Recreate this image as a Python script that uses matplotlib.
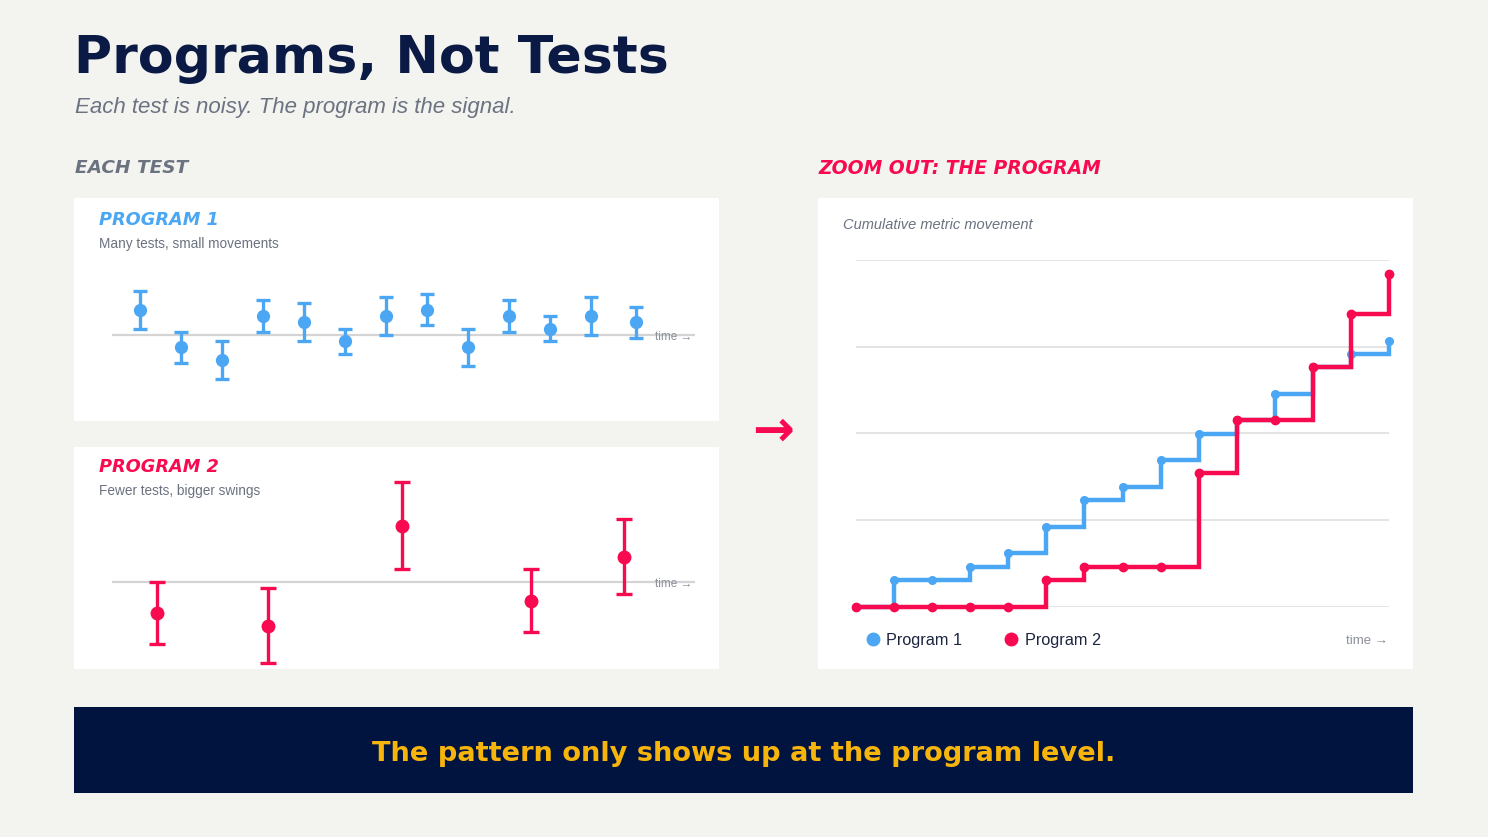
import numpy as np
import matplotlib.pyplot as plt
from matplotlib.lines import Line2D

W, H = 1488, 837
BG = '#f3f3ef'
NAVY = '#0b1a45'
GRAY = '#6b7280'
BLUE = '#4ba6f3'
RED = '#f70a4f'
GOLD = '#f7b50c'

# program 1: many small tests (lift %, +/- ci)
p1_t = [0, 1, 2, 3, 4, 5, 6, 7, 8, 9, 10, 11, 12.1]
p1_val = [2, -1, -2, 1.5, 1, -0.5, 1.5, 2, -1, 1.5, 0.5, 1.5, 1]
p1_err = [1.5, 1.25, 1.5, 1.25, 1.5, 1.0, 1.5, 1.25, 1.5, 1.25, 1.0, 1.5, 1.25]

# program 2: fewer, bigger tests
p2_t = [0.41, 3.12, 6.39, 9.54, 11.8]
p2_val = [-2.5, -3.5, 4.5, -1.5, 2.0]
p2_err = [2.5, 3.0, 3.5, 2.5, 3.0]

# cumulative movement
cum_t = np.arange(15)
cum_p1 = [0, 3.1, 3.1, 4.6, 6.2, 9.2, 12.3, 13.8, 16.9, 19.9, 21.5, 24.5, 27.6, 29.1, 30.6]
cum_p2 = [0, 0, 0, 0, 0, 3.1, 4.6, 4.6, 4.6, 15.4, 21.5, 21.5, 27.6, 33.8, 38.4]
grid_y = [0, 10, 20, 30, 40]


def box(x0, y0, x1, y1):
    # pixel box (top-left origin) -> figure fraction rect
    return [x0 / W, 1 - y1 / H, (x1 - x0) / W, (y1 - y0) / H]


def fx(x):
    return x / W


def fy(y):
    return 1 - y / H


fig = plt.figure(figsize=(W / 100, (H + 0.4) / 100), dpi=100, facecolor=BG)

# header
fig.text(fx(74), fy(59), 'Programs, Not Tests', fontsize=37.5, fontweight='bold',
         color=NAVY, va='center', family='DejaVu Sans')
fig.text(fx(75), fy(107), 'Each test is noisy. The program is the signal.', fontsize=16,
         style='italic', color=GRAY, va='center', family='Liberation Sans')
fig.text(fx(75), fy(168), 'EACH TEST', fontsize=13.3, fontweight='bold', style='italic',
         color=GRAY, va='center', family='DejaVu Sans')
fig.text(fx(818), fy(168), 'ZOOM OUT: THE PROGRAM', fontsize=13.5, fontweight='bold',
         style='italic', color=RED, va='center', family='DejaVu Sans')

# white cards
for b in [(74, 198, 719, 421), (74, 447, 719, 669), (818, 198, 1413, 669)]:
    card = fig.add_axes(box(*b), facecolor='white')
    card.set_xticks([])
    card.set_yticks([])
    for s in card.spines.values():
        s.set_visible(False)


def test_panel(y_zero, title, sub, color, t, val, err, ms, cap):
    ax = fig.add_axes(box(112, y_zero - 87.5, 695, y_zero + 87.5))
    ax.set_axis_off()
    ax.set_xlim(-0.683, 13.54)
    ax.set_ylim(-7, 7)
    ax.axhline(0, color='#d4d4d4', lw=1.6, zorder=1)
    ax.errorbar(t, val, yerr=err, fmt='o', color=color, ms=ms, elinewidth=2.4,
                capsize=cap, capthick=2.4, zorder=3, clip_on=False)
    ax.text(0.932, -0.15, 'time →', transform=ax.get_yaxis_transform(), fontsize=8.5,
            color='#8a8f99', va='center', ha='left', family='Liberation Sans')
    fig.text(fx(99), fy(y_zero - 115), title, fontsize=12.8, fontweight='bold', style='italic',
             color=color, va='center', family='DejaVu Sans')
    fig.text(fx(99), fy(y_zero - 91), sub, fontsize=9.8, color=GRAY, va='center',
             family='Liberation Sans')


test_panel(335, 'PROGRAM 1', 'Many tests, small movements', BLUE,
           p1_t, p1_val, p1_err, 8.5, 5.2)
test_panel(582, 'PROGRAM 2', 'Fewer tests, bigger swings', RED,
           p2_t, p2_val, p2_err, 9, 5.5)

# arrow between
fig.text(fx(773), fy(431), '→', fontsize=36, fontweight='bold', color=RED,
         ha='center', va='center', family='DejaVu Sans')

# cumulative chart
ax = fig.add_axes(box(856, 260, 1389, 607))
ax.set_axis_off()
ax.set_xlim(0, 14)
ax.set_ylim(0, 40)
for g in grid_y:
    ax.axhline(g, color='#dcdcdc', lw=1.1, zorder=1)
ax.plot(cum_t, cum_p1, drawstyle='steps-post', color=BLUE, lw=3.2, zorder=2,
        clip_on=False, solid_joinstyle='miter')
ax.plot(cum_t, cum_p1, 'o', color=BLUE, ms=5.5, zorder=2, clip_on=False)
ax.plot(cum_t, cum_p2, drawstyle='steps-post', color=RED, lw=3.2, zorder=3,
        clip_on=False, solid_joinstyle='miter')
ax.plot(cum_t, cum_p2, 'o', color=RED, ms=6, zorder=3, clip_on=False)

fig.text(fx(843), fy(225), 'Cumulative metric movement', fontsize=10.5, style='italic',
         color=GRAY, va='center', family='Liberation Sans')
fig.text(fx(1388), fy(641), 'time →', fontsize=9.5, color='#8a8f99', va='center',
         ha='right', family='Liberation Sans')

handles = [Line2D([], [], marker='o', ls='none', color=BLUE, ms=9),
           Line2D([], [], marker='o', ls='none', color=RED, ms=9)]
leg = fig.legend(handles, ['Program 1', 'Program 2'], loc='center left',
                 bbox_to_anchor=(fx(866), fy(640)), ncol=2, frameon=False,
                 handlelength=0.8, handletextpad=0.45, columnspacing=2.6,
                 borderpad=0, borderaxespad=0,
                 prop={'family': 'Liberation Sans', 'size': 11.7})
for t in leg.get_texts():
    t.set_color('#1c2540')

# bottom banner
banner = fig.add_axes(box(74, 707, 1413, 793), facecolor='#011440')
banner.set_xticks([])
banner.set_yticks([])
for s in banner.spines.values():
    s.set_visible(False)
banner.text(0.5, 0.46, 'The pattern only shows up at the program level.', fontsize=19.6,
            fontweight='bold', color=GOLD, ha='center', va='center',
            transform=banner.transAxes, family='DejaVu Sans')

fig.savefig('out.png', dpi=100, facecolor=BG)
